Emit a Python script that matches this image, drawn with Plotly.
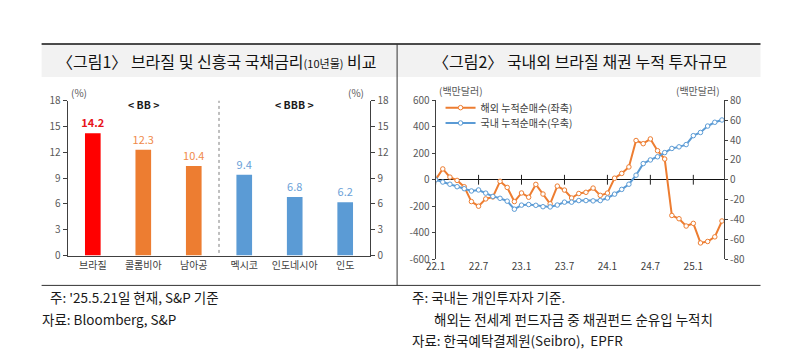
import plotly.graph_objects as go

W, H = 800, 359


def fx(p):
    return p / W


def fy(p):
    return 1 - p / H


FONT = "Noto Sans CJK KR"

# ---------------- Figure 1 data ----------------
countries = ["브라질", "콜롬비아", "남아공", "멕시코", "인도네시아", "인도"]
yields_10y = [14.2, 12.3, 10.4, 9.4, 6.8, 6.2]
rating_groups = ["BB", "BB", "BB", "BBB", "BBB", "BBB"]
bar_colors = ["#FF0000", "#ED7D31", "#ED7D31", "#5B9BD5", "#5B9BD5", "#5B9BD5"]
label_colors = ["#E8141B", "#F08A4B", "#F08A4B", "#6A9FD8", "#6A9FD8", "#6A9FD8"]
left_ticks = [0, 3, 6, 9, 12, 15, 18]

# ---------------- Figure 2 data ----------------
months = [
    "22.1", "22.2", "22.3", "22.4", "22.5", "22.6", "22.7", "22.8", "22.9", "22.10", "22.11", "22.12",
    "23.1", "23.2", "23.3", "23.4", "23.5", "23.6", "23.7", "23.8", "23.9", "23.10", "23.11", "23.12",
    "24.1", "24.2", "24.3", "24.4", "24.5", "24.6", "24.7", "24.8", "24.9", "24.10", "24.11", "24.12",
    "25.1", "25.2", "25.3", "25.4", "25.5",
]
overseas_cum = [
    0, 82, 20, -5, -53, -165, -200, -145, -130, -12, -58, -165,
    -100, -132, -35, -108, -182, -48, -78, -138, -104, -95, -63, -118,
    -101, 12, 48, 97, 297, 273, 309, 220, 157, -270, -295, -350,
    -330, -478, -467, -432, -312,
]
domestic_cum = [
    0, -2.3, -4.5, -7, -9, -11.3, -10.3, -13.5, -16.8, -18.7, -21.6, -29.7,
    -25.6, -25, -25.8, -27.2, -27.4, -25.5, -22.6, -22.6, -21, -21, -21.3, -21,
    -18.4, -14.5, -9.7, -4.5, 4.6, 16.3, 20, 23.2, 27.4, 31.6, 33.2, 35.5,
    44.5, 47.7, 54.2, 58, 60.3,
]
month_ticks = ["22.1", "22.7", "23.1", "23.7", "24.1", "24.7", "25.1"]
left2_ticks = [-600, -400, -200, 0, 200, 400, 600]
right2_ticks = [-80, -60, -40, -20, 0, 20, 40, 60, 80]

ORANGE = "#ED7D31"
BLUE = "#5B9BD5"
AXC = "#404040"
TXC = "#595959"

fig = go.Figure()

# ---- left chart bars
fig.add_trace(go.Bar(
    x=countries, y=yields_10y,
    marker=dict(color=bar_colors, line=dict(width=0)),
    width=0.31,
    text=[f"<b>{v}</b>" if i == 0 else f"{v}" for i, v in enumerate(yields_10y)],
    textposition="outside",
    constraintext="none",
    textfont=dict(color=label_colors, size=11, family=FONT),
    cliponaxis=False,
    showlegend=False, hoverinfo="skip",
    xaxis="x", yaxis="y",
))
fig.add_trace(go.Scatter(
    x=countries, y=yields_10y, mode="none", showlegend=False, hoverinfo="skip",
    xaxis="x", yaxis="y2",
))

# ---- right chart lines
fig.add_trace(go.Scatter(
    x=months, y=overseas_cum, name="해외 누적순매수(좌축)",
    mode="lines+markers",
    line=dict(color=ORANGE, width=2),
    marker=dict(symbol="circle", size=4.5, color="white", line=dict(color=ORANGE, width=1)),
    xaxis="x3", yaxis="y3", legend="legend",
))
fig.add_trace(go.Scatter(
    x=months, y=domestic_cum, name="국내 누적순매수(우축)",
    mode="lines+markers",
    line=dict(color=BLUE, width=2),
    marker=dict(symbol="circle", size=4.5, color="white", line=dict(color=BLUE, width=1)),
    xaxis="x3", yaxis="y4", legend="legend2",
))
# tick marks on the zero line at the labelled months
fig.add_trace(go.Scatter(
    x=month_ticks, y=[0] * len(month_ticks), mode="markers",
    marker=dict(symbol="line-ns", size=7, line=dict(color="#222222", width=1)),
    showlegend=False, hoverinfo="skip", xaxis="x3", yaxis="y3",
))

axis_font = dict(family=FONT, size=10, color=TXC)
legend_style = dict(xanchor="left", yanchor="middle", bgcolor="rgba(0,0,0,0)",
                    font=dict(family=FONT, size=10, color="#404040"), itemwidth=30)

fig.update_layout(
    width=W, height=359, autosize=False,
    margin=dict(l=0, r=0, t=0, b=0),
    paper_bgcolor="white", plot_bgcolor="rgba(0,0,0,0)",
    font=dict(family=FONT, color="#333333"),
    xaxis=dict(
        domain=[fx(58.3), fx(365)], anchor="y", type="category",
        range=[-0.5, len(countries) - 0.5],
        showline=True, linecolor=AXC, linewidth=1, ticks="", showgrid=False,
        tickfont=dict(family=FONT, size=10, color="#404040"),
    ),
    yaxis=dict(
        domain=[fy(258.3), fy(96.7)], anchor="x", range=[0, 18],
        tickvals=left_ticks, ticktext=[str(v) for v in left_ticks],
        ticks="outside", ticklen=4, tickcolor=AXC, showline=True, linecolor=AXC, linewidth=1,
        showgrid=False, zeroline=False, tickfont=axis_font,
    ),
    yaxis2=dict(
        overlaying="y", anchor="x", side="right", range=[0, 18],
        tickvals=left_ticks, ticktext=[str(v) for v in left_ticks],
        ticks="outside", ticklen=4, tickcolor=AXC, showline=True, linecolor=AXC, linewidth=1,
        showgrid=False, zeroline=False, tickfont=axis_font,
    ),
    xaxis3=dict(
        domain=[fx(431), fx(723)], anchor="y3", type="category",
        range=[0, len(months) - 1 + 0.28],
        tickvals=month_ticks, ticktext=month_ticks,
        showline=False, ticks="", showgrid=False,
        tickfont=dict(family=FONT, size=10, color="#404040"),
    ),
    yaxis3=dict(
        domain=[fy(262), fy(96.5)], anchor="x3", range=[-600, 600],
        tickvals=left2_ticks, ticktext=[str(v) for v in left2_ticks],
        ticks="outside", ticklen=3, tickcolor=AXC, showline=True, linecolor=AXC, linewidth=1,
        showgrid=False, zeroline=True, zerolinecolor="#111111", zerolinewidth=1,
        tickfont=axis_font,
    ),
    yaxis4=dict(
        overlaying="y3", anchor="x3", side="right", range=[-80, 80],
        tickvals=right2_ticks, ticktext=[str(v) for v in right2_ticks],
        ticks="outside", ticklen=3, tickcolor=AXC, showline=True, linecolor=AXC, linewidth=1,
        showgrid=False, zeroline=False, tickfont=axis_font,
    ),
    legend=dict(x=fx(436), y=fy(104), **legend_style),
    legend2=dict(x=fx(436), y=fy(120), **legend_style),
)

shapes = [
    # title bars
    dict(type="rect", xref="paper", yref="paper", x0=fx(32), x1=fx(392), y0=fy(72), y1=fy(38),
         fillcolor="#F2F2F2", line=dict(width=0), layer="below"),
    dict(type="rect", xref="paper", yref="paper", x0=fx(392), x1=fx(760), y0=fy(72), y1=fy(38),
         fillcolor="#F2F2F2", line=dict(width=0), layer="below"),
    # frame lines
    dict(type="line", xref="paper", yref="paper", x0=fx(32), x1=fx(760), y0=fy(37.7), y1=fy(37.7),
         line=dict(color="#111111", width=1.5)),
    dict(type="line", xref="paper", yref="paper", x0=fx(392), x1=fx(392), y0=fy(37.7), y1=fy(289.5),
         line=dict(color="#333333", width=1)),
    dict(type="line", xref="paper", yref="paper", x0=fx(32), x1=fx(760), y0=fy(289.5), y1=fy(289.5),
         line=dict(color="#333333", width=1)),
]
# dotted separator between rating groups
n_bb = rating_groups.count("BB")
shapes.append(dict(type="line", xref="x", yref="y", x0=n_bb - 0.5, x1=n_bb - 0.5, y0=0.3, y1=18.2,
                   line=dict(color="#7F7F7F", width=1, dash="dot")))
fig.update_layout(shapes=shapes)

ann = []


def add_text(x, y, text, size, color="#333333", xanchor="center", bold=False):
    ann.append(dict(xref="paper", yref="paper", x=fx(x), y=fy(y), text=f"<b>{text}</b>" if bold else text,
                    showarrow=False, xanchor=xanchor, yanchor="middle",
                    font=dict(family=FONT, size=size, color=color)))


# titles
ann.append(dict(xref="paper", yref="paper", x=fx(210), y=fy(55),
                text="〈그림1〉 브라질 및 신흥국 국채금리<span style='font-size:11px'>(10년물)</span> 비교",
                showarrow=False, xanchor="center", yanchor="middle",
                font=dict(family=FONT, size=16, color="#111111")))
add_text(577, 55, "〈그림2〉 국내외 브라질 채권 누적 투자규모", 16, "#111111")

# unit labels
add_text(70, 88, "(%)", 10, TXC)
add_text(350, 88, "(%)", 10, TXC)
add_text(457, 86, "(백만달러)", 10, TXC)
add_text(697, 86, "(백만달러)", 10, TXC)

# group labels (centered over each rating group)
for g in ["BB", "BBB"]:
    idx = [i for i, r in enumerate(rating_groups) if r == g]
    mid = (idx[0] + idx[-1]) / 2
    ann.append(dict(xref="x", yref="y", x=mid, y=17.6, text=f"<b>&lt; {g} &gt;</b>", showarrow=False,
                    xanchor="center", yanchor="middle", font=dict(family=FONT, size=10.5, color="#1A1A1A")))

# footnotes
add_text(38, 302, "주: '25.5.21일 현재, S&P 기준", 13.5, "#1A1A1A", xanchor="left")
add_text(30, 325, "자료: Bloomberg, S&P", 13.5, "#1A1A1A", xanchor="left")
add_text(405, 302, "주: 국내는 개인투자자 기준.", 13.5, "#1A1A1A", xanchor="left")
add_text(427, 325, "해외는 전세계 펀드자금 중 채권펀드 순유입 누적치", 13.5, "#1A1A1A", xanchor="left")
add_text(405, 346, "자료: 한국예탁결제원(Seibro),  EPFR", 13.5, "#1A1A1A", xanchor="left")

fig.update_layout(annotations=ann)

fig.write_html(
    "out.html",
    config={"displayModeBar": False, "staticPlot": True},
    post_script="document.body.style.margin='0px';document.body.style.overflow='hidden';",
)
